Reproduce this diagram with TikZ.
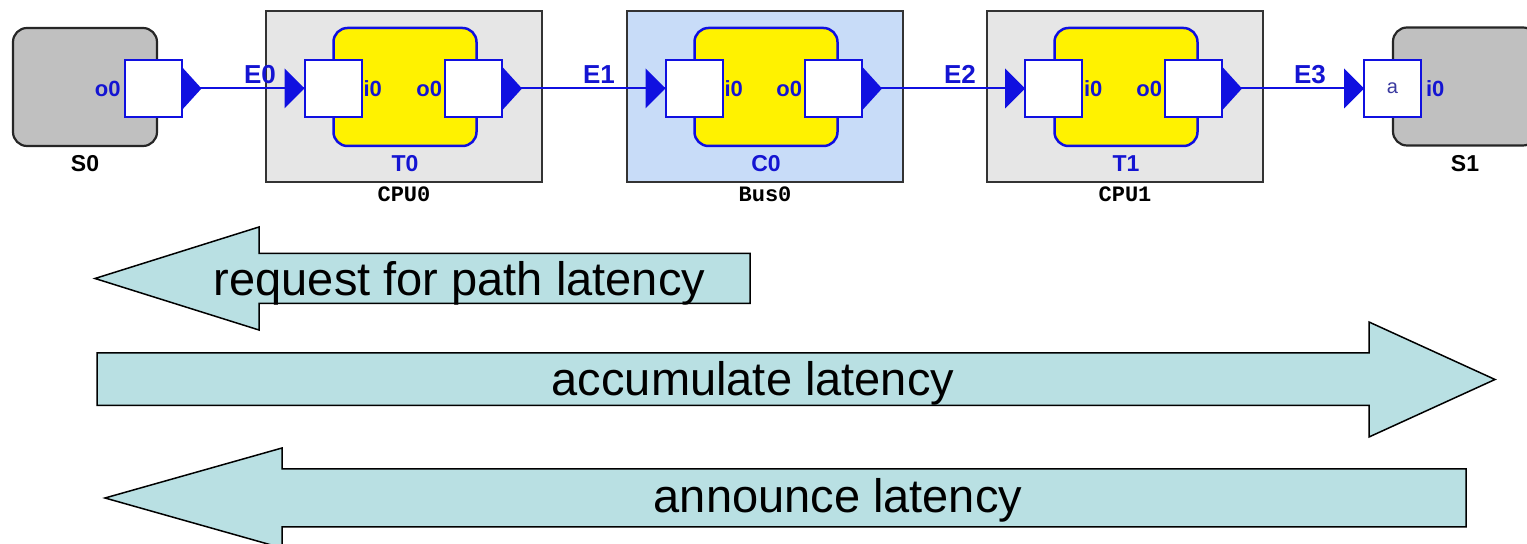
\documentclass[tikz,border=0pt]{standalone}
\usepackage{fontspec}
\setmainfont{Liberation Sans}
\setmonofont{Liberation Mono}
\definecolor{cpugray}{HTML}{E6E6E6}
\definecolor{busblue}{HTML}{C8DCF8}
\definecolor{srcgray}{HTML}{C0C0C0}
\definecolor{portblue}{HTML}{1010E0}
\definecolor{lblblue}{HTML}{1414D2}
\definecolor{arrowfill}{HTML}{B9E0E3}
\definecolor{aport}{HTML}{3A3AA0}
\begin{document}
\begin{tikzpicture}[x=0.5pt,y=-0.5pt,
  every node/.style={inner sep=0pt, outer sep=0pt},
  hostbox/.style={draw=black!80, line width=0.75pt, minimum width=138pt, minimum height=85.5pt},
  taskbox/.style={draw=portblue, line width=1.25pt, fill=yellow, rounded corners=7pt, minimum width=71.5pt, minimum height=59pt},
  srcbox/.style={draw=black!85, line width=1.1pt, fill=srcgray, rounded corners=7pt, minimum width=72pt, minimum height=59pt},
  portbox/.style={draw=portblue, line width=1pt, fill=white, minimum size=28.5pt},
  edgeline/.style={draw=portblue, line width=1pt},
  tri/.style={fill=portblue},
  portlbl/.style={text=lblblue, font=\bfseries\fontsize{11}{11}\selectfont},
  elbl/.style={text=lblblue, font=\bfseries\fontsize{13}{13}\selectfont, anchor=base},
  namelbl/.style={font=\bfseries\fontsize{11.5}{11.5}\selectfont, anchor=base},
  hostlbl/.style={font=\ttfamily\bfseries\fontsize{11}{11}\selectfont, anchor=base},
  bigarrow/.style={draw=black, line width=0.75pt, fill=arrowfill},
  bigtext/.style={font=\fontsize{23.5}{23.5}\selectfont, anchor=base}
]
\useasboundingbox (0,0) rectangle (1527,544);
\clip (0,0) rectangle (1527,544);

% host boxes
\node[hostbox, fill=cpugray] (CPU0) at (404,96.5) {};
\node[hostbox, fill=busblue] (Bus0) at (765,96.5) {};
\node[hostbox, fill=cpugray] (CPU1) at (1125,96.5) {};

% tasks and sources
\node[taskbox] (T0) at (405,87) {};
\node[taskbox] (C0) at (766,87) {};
\node[taskbox] (T1) at (1126,87) {};
\node[srcbox] (S0) at (85,87) {};
\node[srcbox] (S1) at (1465,86.5) {};

% ports
\node[portbox] (S0out) at (153,88.5) {};
\node[portbox] (T0in) at (333,88.5) {};
\node[portbox] (T0out) at (473.5,88.5) {};
\node[portbox] (C0in) at (694,88.5) {};
\node[portbox] (C0out) at (833.5,88.5) {};
\node[portbox] (T1in) at (1053.5,88.5) {};
\node[portbox] (T1out) at (1193.5,88.5) {};
\node[portbox, text=aport, font=\fontsize{10}{10}\selectfont] (S1in) at (1392.5,88.5) {a};

% connectors
\draw[edgeline] (S0out.east) -- (T0in.west);
\draw[edgeline] (T0out.east) -- (C0in.west);
\draw[edgeline] (C0out.east) -- (T1in.west);
\draw[edgeline] (T1out.east) -- (S1in.west);

% output triangles
\foreach \p in {S0out,T0out,C0out,T1out}
  \fill[tri] (\p.east) ++(0,-22) -- ++(20,22) -- ++(-20,22) -- cycle;
% input triangles
\foreach \p in {T0in,C0in,T1in,S1in}
  \fill[tri] (\p.west) -- ++(-20,-20) -- ++(0,40) -- cycle;

% port labels
\node[portlbl, anchor=east] (lS0o) at ([xshift=-2pt]S0out.west) {o0};
\node[portlbl, anchor=west] (lT0i) at ([xshift=1pt]T0in.east) {i0};
\node[portlbl, anchor=east] (lT0o) at ([xshift=-1.5pt]T0out.west) {o0};
\node[portlbl, anchor=west] (lC0i) at ([xshift=1pt]C0in.east) {i0};
\node[portlbl, anchor=east] (lC0o) at ([xshift=-1.5pt]C0out.west) {o0};
\node[portlbl, anchor=west] (lT1i) at ([xshift=1pt]T1in.east) {i0};
\node[portlbl, anchor=east] (lT1o) at ([xshift=-1.5pt]T1out.west) {o0};
\node[portlbl, anchor=west] (lS1i) at ([xshift=2.5pt]S1in.east) {i0};

% edge labels
\node[elbl] (E0) at (260,84) {E0};
\node[elbl] (E1) at (599,84) {E1};
\node[elbl] (E2) at (960,84) {E2};
\node[elbl] (E3) at (1310,84) {E3};

% names
\node[namelbl] (nS0) at (85,172) {S0};
\node[namelbl] (nS1) at (1465,172) {S1};
\node[namelbl, text=lblblue] (nT0) at (405,172) {T0};
\node[namelbl, text=lblblue] (nC0) at (766,172) {C0};
\node[namelbl, text=lblblue] (nT1) at (1126,172) {T1};
\node[hostlbl] (nCPU0) at (404,202) {CPU0};
\node[hostlbl] (nBus0) at (765,202) {Bus0};
\node[hostlbl] (nCPU1) at (1125,202) {CPU1};

% big arrows
\draw[bigarrow] (95,278.5) -- (259,227) -- (259,253.5) -- (750,253.5) -- (750,303.5) -- (259,303.5) -- (259,330) -- cycle;
\node[bigtext] (req) at (459.5,296) {request for path latency};

\draw[bigarrow] (97,353) -- (1369,353) -- (1369,322) -- (1495,379.5) -- (1369,437) -- (1369,405.5) -- (97,405.5) -- cycle;
\node[bigtext] (acc) at (753,396) {accumulate latency};

\draw[bigarrow] (105,498) -- (282,448) -- (282,469) -- (1466,469) -- (1466,527) -- (282,527) -- (282,548) -- cycle;
\node[bigtext] (ann) at (838,513) {announce latency};
\end{tikzpicture}
\end{document}
